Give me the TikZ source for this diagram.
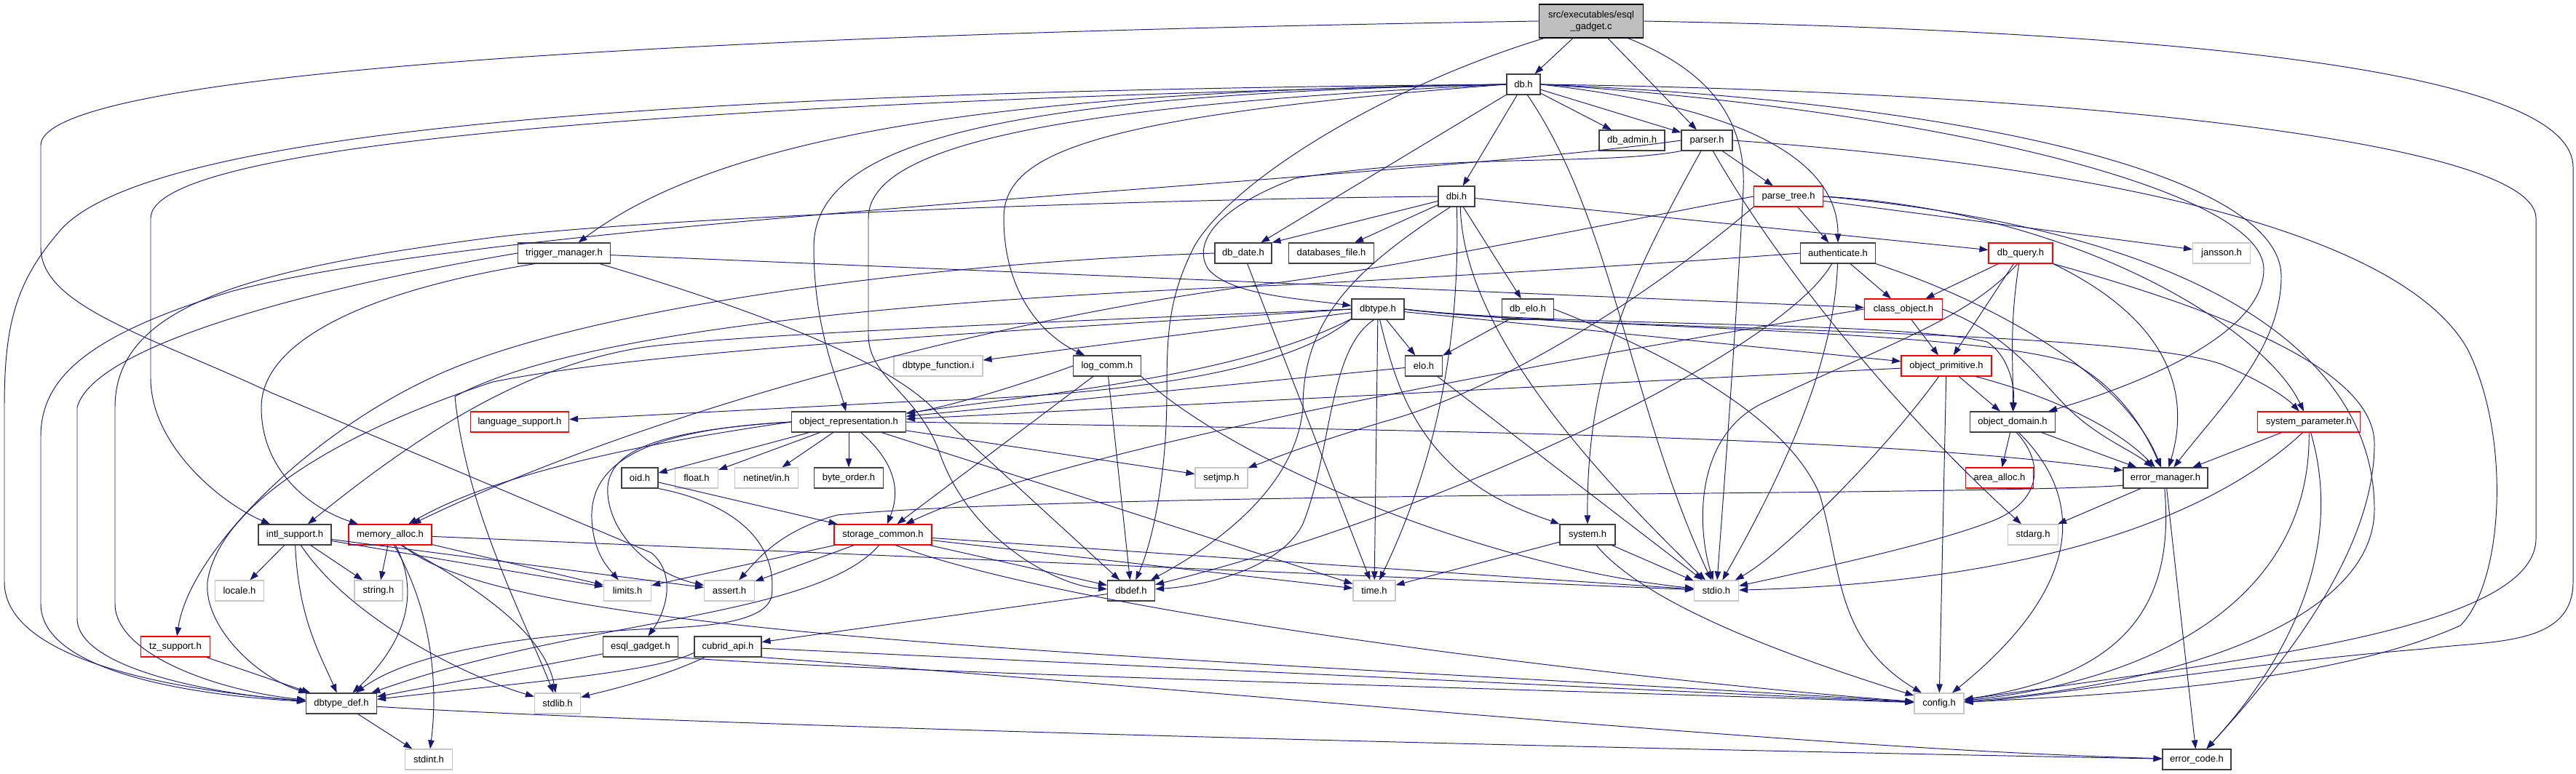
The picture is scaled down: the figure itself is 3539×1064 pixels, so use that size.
\documentclass[tikz,border=0pt]{standalone}
\usepackage{fontspec}
\usetikzlibrary{arrows.meta}
\newfontfamily\nf{Liberation Sans}
\definecolor{navy}{HTML}{191970}
\tikzset{
 bx/.style={draw=black!75, fill=white, line width=0.65pt, minimum height=5.6mm, inner sep=0pt, font=\nf\fontsize{7.4}{8.9}\selectfont},
 rb/.style={bx, draw=red},
 gb/.style={bx, draw=black!22},
 wd/.style={minimum width=#1*0.2mm},
 ed/.style={draw=navy, line width=0.55pt, -{Triangle[length=2.4mm,width=1.7mm]}},
}
\begin{document}
\begin{tikzpicture}[x=0.02cm,y=-0.02cm]
\useasboundingbox (0,0) rectangle (3539,1064);
% nodes
\node[bx, fill=black!25, draw=black, wd=143, minimum height=9.2mm, align=center] (esqlc) at (2186,29) {src/executables/esql\\\_gadget.c};
\node[bx,wd=46] (dbh) at (2093,116) {db.h};
\node[bx,wd=90] (dbadmin) at (2242,193) {db\_admin.h};
\node[bx,wd=70] (parser) at (2345,193) {parser.h};
\node[bx,wd=50] (dbi) at (2001,270) {dbi.h};
\node[rb,wd=95] (parsetree) at (2457,270) {parse\_tree.h};
\node[bx,wd=117] (dbfile) at (1829,348) {databases\_file.h};
\node[bx,wd=103] (auth) at (2525,348) {authenticate.h};
\node[bx,wd=78] (dbdate) at (1708,348) {db\_date.h};
\node[bx,wd=127] (trigger) at (775,348) {trigger\_manager.h};
\node[rb,wd=88] (dbquery) at (2776,348) {db\_query.h};
\node[gb,wd=79] (jansson) at (3052,348) {jansson.h};
\node[bx,wd=72] (dbtype) at (1893,425) {dbtype.h};
\node[bx,wd=71] (dbelo) at (2099,425) {db\_elo.h};
\node[rb,wd=107] (classobj) at (2615,425) {class\_object.h};
\node[bx,wd=51] (elo) at (1956,503) {elo.h};
\node[rb,wd=124] (objprim) at (2674,503) {object\_primitive.h};
\node[gb,wd=122] (dbtfunc) at (1289,503) {dbtype\_function.i};
\node[bx,wd=93] (logcomm) at (1521,503) {log\_comm.h};
\node[rb,wd=135] (langsup) at (714,580) {language\_support.h};
\node[bx,wd=157] (objrep) at (1166,580) {object\_representation.h};
\node[bx,wd=117] (objdom) at (2765,580) {object\_domain.h};
\node[rb,wd=141] (syspar) at (3172,580) {system\_parameter.h};
\node[bx,wd=50] (oid) at (879,657) {oid.h};
\node[gb,wd=59] (floath) at (957,657) {float.h};
\node[gb,wd=87] (netinet) at (1053,657) {netinet/in.h};
\node[bx,wd=95] (byteorder) at (1166,657) {byte\_order.h};
\node[gb,wd=72] (setjmp) at (1678,657) {setjmp.h};
\node[rb,wd=93] (areaalloc) at (2747,657) {area\_alloc.h};
\node[bx,wd=116] (errmgr) at (2975,657) {error\_manager.h};
\node[bx,wd=100] (intl) at (405,735) {intl\_support.h};
\node[rb,wd=114] (memalloc) at (536,735) {memory\_alloc.h};
\node[rb,wd=134] (storage) at (1213,735) {storage\_common.h};
\node[bx,wd=76] (system) at (2181,735) {system.h};
\node[gb,wd=69] (stdarg) at (2793,735) {stdarg.h};
\node[gb,wd=67] (locale) at (329,812) {locale.h};
\node[gb,wd=66] (stringh) at (520,812) {string.h};
\node[gb,wd=65] (limits) at (862,812) {limits.h};
\node[gb,wd=69] (assert) at (1002,812) {assert.h};
\node[bx,wd=65] (dbdef) at (1554,812) {dbdef.h};
\node[gb,wd=58] (timeh) at (1888,812) {time.h};
\node[gb,wd=61] (stdio) at (2358,812) {stdio.h};
\node[rb,wd=95] (tz) at (241,889) {tz\_support.h};
\node[bx,wd=103] (esqlh) at (880,889) {esql\_gadget.h};
\node[bx,wd=92] (cubridapi) at (1000,889) {cubrid\_api.h};
\node[bx,wd=97] (dbtdef) at (469,967) {dbtype\_def.h};
\node[gb,wd=63] (stdlib) at (766,967) {stdlib.h};
\node[gb,wd=68] (config) at (2664,967) {config.h};
\node[gb,wd=65] (stdint) at (589,1044) {stdint.h};
\node[bx,wd=94] (errcode) at (3018,1044) {error\_code.h};
% esql_gadget.c
\draw[ed] (esqlc) -- (dbh);
\draw[ed] (esqlc) -- (parser);
\draw[ed] (esqlc.200) .. controls (1900,120) and (1690,250) .. (1640,340) .. controls (1605,410) and (1603,460) .. (1603,540) .. controls (1603,650) and (1585,740) .. (dbdef);
\draw[ed] (esqlc.-25) .. controls (2330,90) and (2400,150) .. (2395,260) .. controls (2385,450) and (2370,650) .. (stdio);
\draw[ed] (esqlc.east) .. controls (3100,45) and (3535,110) .. (3535,230) -- (3535,800) .. controls (3535,890) and (3420,880) .. (3330,892) .. controls (3050,915) and (2800,960) .. (config);
\draw[ed] (esqlc.west) .. controls (1100,45) and (56,90) .. (56,200) -- (56,340) .. controls (56,420) and (200,460) .. (373,540) -- (895,760) .. controls (930,790) and (915,840) .. (esqlh);
% db.h
\draw[ed] (dbh) -- (dbadmin);
\draw[ed] (dbh) -- (parser);
\draw[ed] (dbh) -- (dbi);
\draw[ed] (dbh) -- (dbdate);
\draw[ed] (dbh.east) .. controls (2420,150) and (2525,230) .. (auth);
\draw[ed] (dbh.-70) .. controls (2215,300) and (2240,560) .. (stdio);
\draw[ed] (dbh.east) .. controls (2800,125) and (3484,190) .. (3484,300) -- (3484,740) .. controls (3484,870) and (3050,910) .. (config);
\draw[ed] (dbh.west) .. controls (1400,125) and (1000,180) .. (trigger);
\draw[ed] (dbh.west) .. controls (1200,135) and (207,180) .. (207,300) -- (207,520) .. controls (207,610) and (300,690) .. (intl);
\draw[ed] (dbh.west) .. controls (1000,125) and (200,170) .. (80,320) .. controls (20,390) and (6,450) .. (6,560) -- (6,800) .. controls (6,910) and (250,950) .. (dbtdef);
\draw[ed] (dbh.west) .. controls (1350,130) and (1118,200) .. (1118,340) .. controls (1118,450) and (1150,520) .. (objrep);
\draw[ed] (dbh.west) .. controls (1500,160) and (1379,210) .. (1379,300) .. controls (1379,400) and (1430,460) .. (logcomm);
\draw[ed] (dbh.west) .. controls (1450,145) and (1193,200) .. (1193,300) -- (1193,460) .. controls (1193,520) and (1260,540) .. (1290,620) .. controls (1330,740) and (1450,805) .. (dbdef);
\draw[ed] (dbh.east) .. controls (2700,140) and (3134,240) .. (3134,380) .. controls (3134,480) and (3050,560) .. (errmgr);
\draw[ed] (dbh.east) .. controls (2650,150) and (3110,260) .. (3110,370) .. controls (3110,470) and (2900,540) .. (objdom);
% parser.h
\draw[ed] (parser) -- (parsetree);
\draw[ed] (parser) .. controls (2230,400) and (2180,520) .. (system);
\draw[ed] (parser) .. controls (2440,360) and (2600,560) .. (stdarg);
\draw[ed] (parser.east) .. controls (2900,230) and (3300,320) .. (3390,480) .. controls (3450,600) and (3440,800) .. (3380,860) .. controls (3200,940) and (2900,955) .. (config);
\draw[ed] (parser.south west) .. controls (2200,228) and (2000,210) .. (1780,245) .. controls (1660,290) and (1640,340) .. (1660,370) .. controls (1690,405) and (1780,410) .. (dbtype);
\draw[ed] (parser.west) .. controls (1900,250) and (700,300) .. (320,400) .. controls (120,460) and (56,520) .. (56,600) -- (56,830) .. controls (56,920) and (250,955) .. (dbtdef);
% dbi.h
\draw[ed] (dbi) -- (dbdate.north east);
\draw[ed] (dbi) -- (dbfile);
\draw[ed] (dbi) -- (dbelo);
\draw[ed] (dbi) -- (dbquery);
\draw[ed] (dbi.-120) .. controls (1860,370) and (1790,440) .. (1790,560) .. controls (1780,680) and (1650,760) .. (dbdef);
\draw[ed] (dbi) .. controls (2005,420) and (1990,600) .. (timeh);
\draw[ed] (dbi.-70) .. controls (2010,450) and (2180,640) .. (stdio);
\draw[ed] (dbi.west) .. controls (1500,275) and (900,300) .. (680,326) .. controls (340,370) and (158,420) .. (158,560) -- (158,830) .. controls (158,900) and (300,950) .. (dbtdef);
% parse_tree.h
\draw[ed] (parsetree) -- (auth);
\draw[ed] (parsetree) -- (jansson);
\draw[ed] (parsetree.south west) .. controls (2250,420) and (2050,540) .. (1900,580) .. controls (1800,610) and (1750,630) .. (setjmp);
\draw[ed] (parsetree.east) .. controls (2850,290) and (3110,450) .. (syspar);
\draw[ed] (parsetree.east) .. controls (3050,320) and (3262,500) .. (3262,700) .. controls (3262,850) and (3000,940) .. (config);
\draw[ed] (parsetree.west) .. controls (2200,310) and (1900,370) .. (1760,388) .. controls (1400,430) and (900,560) .. (memalloc);
% authenticate.h
\draw[ed] (auth) -- (classobj);
\draw[ed] (auth.south east) .. controls (2750,420) and (2920,520) .. (errmgr);
\draw[ed] (auth) .. controls (2520,500) and (2450,650) .. (stdio);
\draw[ed] (auth.-120) .. controls (2450,480) and (2000,700) .. (dbdef);
\draw[ed] (auth.west) .. controls (2250,365) and (1900,385) .. (1760,392) .. controls (1300,410) and (800,450) .. (625,545) .. controls (640,700) and (720,850) .. (stdlib);
% trigger_manager.h
\draw[ed] (trigger.200) .. controls (500,400) and (359,470) .. (359,560) .. controls (359,650) and (430,700) .. (memalloc);
\draw[ed] (trigger.west) .. controls (460,390) and (130,470) .. (106,560) -- (106,850) .. controls (106,920) and (300,955) .. (dbtdef);
\draw[ed] (trigger) .. controls (1050,430) and (1230,500) .. (1290,570) -- (dbdef);
\draw[ed] (trigger) -- (classobj);
% db_date.h
\draw[ed] (dbdate.west) .. controls (1300,360) and (800,420) .. (591,520) .. controls (420,600) and (260,760) .. (tz);
\draw[ed] (dbdate) -- (timeh);
% db_elo.h, elo.h
\draw[ed] (dbelo) -- (elo);
\draw[ed] (dbelo.east) .. controls (2250,470) and (2450,560) .. (2500,680) .. controls (2530,780) and (2520,880) .. (config);
\draw[ed] (elo) -- (objrep);
\draw[ed] (elo) -- (stdio);
% dbtype.h
\draw[ed] (dbtype) -- (dbtfunc);
\draw[ed] (dbtype.200) .. controls (1760,520) and (1500,545) .. (1250,552) -- (langsup);
\draw[ed] (dbtype.west) .. controls (1500,440) and (1000,460) .. (880,478) .. controls (750,500) and (620,560) .. (intl);
\draw[ed] (dbtype.200) .. controls (1700,520) and (1400,545) .. (objrep);
\draw[ed] (dbtype.west) .. controls (1400,455) and (900,480) .. (677,525) .. controls (450,600) and (300,700) .. (285,800) .. controls (280,860) and (350,930) .. (dbtdef);
\draw[ed] (dbtype) -- (elo);
\draw[ed] (dbtype.-110) .. controls (1825,480) and (1830,620) .. (1790,720) .. controls (1760,780) and (1660,805) .. (dbdef);
\draw[ed] (dbtype) -- (timeh);
\draw[ed] (dbtype.-80) .. controls (1915,520) and (1940,610) .. (2040,675) .. controls (2080,700) and (2120,712) .. (system);
\draw[ed] (dbtype) -- (objprim);
\draw[ed] (dbtype.east) .. controls (2150,450) and (2600,440) .. (2730,470) .. controls (2760,490) and (2768,530) .. (objdom);
\draw[ed] (dbtype.east) .. controls (2150,452) and (2700,450) .. (2850,500) .. controls (2920,540) and (2950,600) .. (errmgr);
\draw[ed] (dbtype.east) .. controls (2150,455) and (2900,450) .. (3050,500) .. controls (3100,520) and (3140,545) .. (syspar);
% log_comm.h
\draw[ed] (logcomm.west) .. controls (1400,530) and (1300,560) .. (objrep);
\draw[ed] (logcomm) -- (storage);
\draw[ed] (logcomm) -- (dbdef);
\draw[ed] (logcomm.south east) .. controls (1700,640) and (2050,780) .. (stdio);
% object_representation.h
\draw[ed] (objrep) -- (oid);
\draw[ed] (objrep) -- (floath);
\draw[ed] (objrep) -- (netinet);
\draw[ed] (objrep) -- (byteorder);
\draw[ed] (objrep) .. controls (1235,640) and (1235,680) .. (storage);
\draw[ed] (objrep) -- (setjmp);
\draw[ed] (objrep.east) .. controls (1800,590) and (2550,595) .. (errmgr.170);
\draw[ed] (objrep) -- (timeh);
\draw[ed] (objrep.west) .. controls (900,590) and (810,630) .. (813,713) .. controls (815,760) and (835,780) .. (limits);
\draw[ed] (objrep.west) .. controls (900,592) and (830,620) .. (835,680) .. controls (840,740) and (900,790) .. (assert);
\draw[ed] (objrep.west) .. controls (950,600) and (700,640) .. (memalloc);
% storage_common.h
\draw[ed] (storage) -- (limits);
\draw[ed] (storage) -- (assert);
\draw[ed] (storage.250) .. controls (1120,850) and (800,850) .. (dbtdef);
\draw[ed] (storage) -- (dbdef);
\draw[ed] (storage) -- (timeh);
\draw[ed] (storage) -- (stdio);
\draw[ed] (storage.-40) .. controls (1500,850) and (2300,940) .. (config);
% oid.h
\draw[ed] (oid) -- (storage);
\draw[ed] (oid.south east) .. controls (1000,690) and (1070,740) .. (1060,820) .. controls (1050,860) and (950,862) .. (880,865) .. controls (700,875) and (560,900) .. (dbtdef);
% intl_support.h
\draw[ed] (intl) -- (locale);
\draw[ed] (intl) -- (stringh);
\draw[ed] (intl) .. controls (410,850) and (440,900) .. (dbtdef);
\draw[ed] (intl.-60) .. controls (480,850) and (640,930) .. (stdlib);
\draw[ed] (intl) -- (limits);
\draw[ed] (intl) -- (assert);
% memory_alloc.h
\draw[ed] (memalloc) -- (stringh);
\draw[ed] (memalloc) .. controls (585,830) and (540,900) .. (dbtdef);
\draw[ed] (memalloc.-70) .. controls (600,850) and (600,960) .. (stdint);
\draw[ed] (memalloc.-45) .. controls (680,820) and (750,880) .. (stdlib);
\draw[ed] (memalloc) -- (limits);
\draw[ed] (memalloc.-40) .. controls (700,880) and (1600,900) .. (config);
\draw[ed] (memalloc) -- (stdio);
% tz_support.h, dbtype_def.h
\draw[ed] (tz) -- (dbtdef);
\draw[ed] (dbtdef) -- (stdint);
\draw[ed] (dbtdef.-5) .. controls (900,995) and (2000,1025) .. (errcode);
% esql_gadget.h, cubrid_api.h, dbdef.h
\draw[ed] (esqlh) -- (dbtdef);
\draw[ed] (esqlh.south east) .. controls (1200,925) and (2200,950) .. (config);
\draw[ed] (cubridapi.-170) .. controls (900,925) and (700,940) .. (dbtdef);
\draw[ed] (cubridapi) .. controls (900,935) and (830,950) .. (stdlib);
\draw[ed] (cubridapi) -- (config);
\draw[ed] (cubridapi.south east) .. controls (1800,960) and (2500,1030) .. (errcode);
\draw[ed] (dbdef) -- (cubridapi);
% system.h
\draw[ed] (system) -- (timeh);
\draw[ed] (system) -- (stdio);
\draw[ed] (system) .. controls (2260,830) and (2450,900) .. (config);
% class_object.h
\draw[ed] (classobj) -- (objprim);
\draw[ed] (classobj.east) .. controls (2760,460) and (2800,520) .. (2840,560) .. controls (2880,600) and (2930,620) .. (errmgr);
\draw[ed] (classobj.west) .. controls (2300,470) and (1500,600) .. (storage);
% object_primitive.h
\draw[ed] (objprim) -- (objrep);
\draw[ed] (objprim) -- (objdom);
\draw[ed] (objprim.-20) .. controls (2800,540) and (2900,580) .. (errmgr);
\draw[ed] (objprim) -- (config);
\draw[ed] (objprim) .. controls (2590,620) and (2450,760) .. (stdio);
% object_domain.h
\draw[ed] (objdom) -- (areaalloc);
\draw[ed] (objdom) -- (errmgr);
\draw[ed] (objdom.-70) .. controls (2812,640) and (2800,690) .. (2740,715) .. controls (2690,735) and (2600,760) .. (stdio);
\draw[ed] (objdom.-60) .. controls (2860,680) and (2870,800) .. (config);
% db_query.h
\draw[ed] (dbquery) -- (classobj);
\draw[ed] (dbquery) -- (objprim);
\draw[ed] (dbquery) .. controls (2760,450) and (2766,500) .. (objdom);
\draw[ed] (dbquery.south east) .. controls (2980,440) and (3010,540) .. (errmgr);
\draw[ed] (dbquery.south east) .. controls (3100,440) and (3262,520) .. (3262,610) .. controls (3262,750) and (3150,900) .. (errcode);
\draw[ed] (dbquery.-105) .. controls (2700,440) and (2600,470) .. (2420,555) .. controls (2330,600) and (2330,720) .. (stdio);
% system_parameter.h
\draw[ed] (syspar) -- (errmgr);
\draw[ed] (syspar.-120) .. controls (3040,710) and (2800,800) .. (stdio);
\draw[ed] (syspar) .. controls (3175,800) and (3000,930) .. (config);
\draw[ed] (syspar.-80) .. controls (3220,750) and (3150,900) .. (errcode);
% error_manager.h
\draw[ed] (errmgr) -- (stdarg);
\draw[ed] (errmgr.-95) .. controls (2990,850) and (2900,930) .. (config);
\draw[ed] (errmgr) -- (errcode);
\draw[ed] (errmgr.-170) .. controls (2700,682) and (1500,675) .. (1150,708) .. controls (1070,730) and (1040,770) .. (assert);
\end{tikzpicture}
\end{document}
